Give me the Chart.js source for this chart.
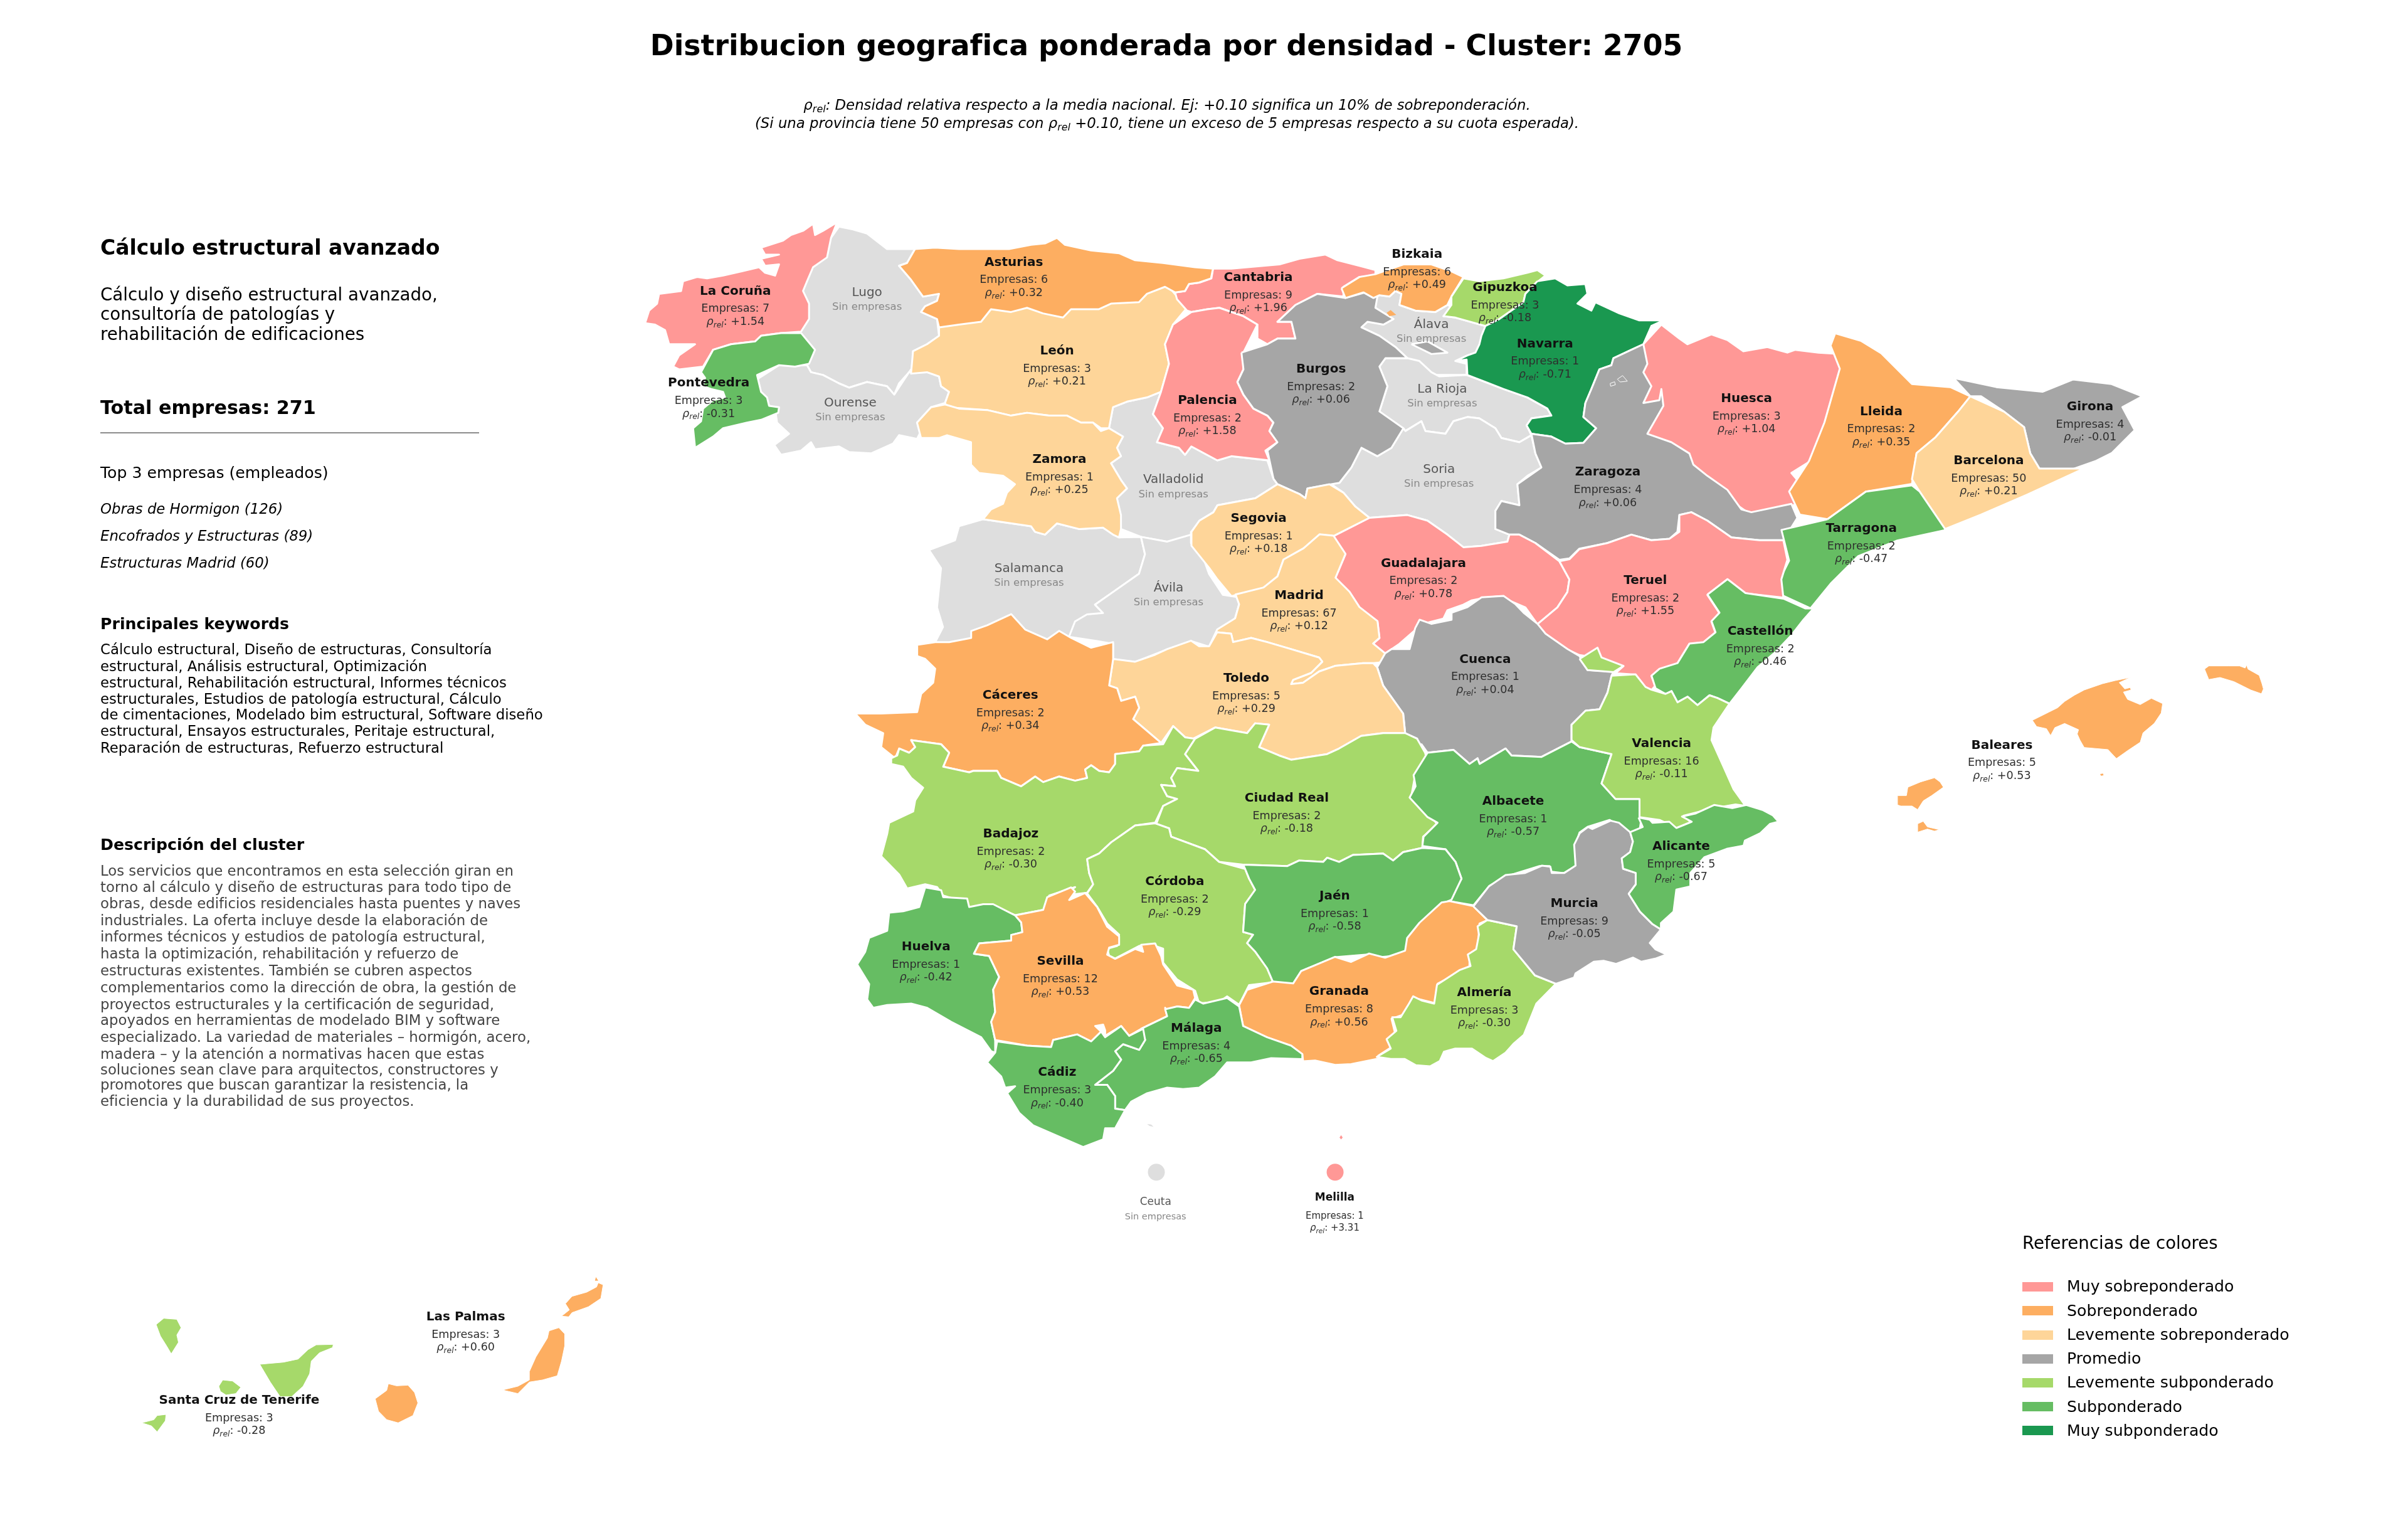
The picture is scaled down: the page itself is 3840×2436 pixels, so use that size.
<!DOCTYPE html>
<html lang="es"><head><meta charset="utf-8">
<title>Distribucion geografica ponderada por densidad - Cluster: 2705</title>
<script src="https://cdn.jsdelivr.net/npm/chart.js@4/dist/chart.umd.js"></script>
<style>
html,body{margin:0;padding:0;background:#fff}
#stage{position:relative;width:3840px;height:2436px;overflow:hidden;font-family:"DejaVu Sans",sans-serif;color:#000}
canvas{position:absolute;left:0;top:0}
.t{position:absolute;white-space:nowrap;line-height:1.2;transform:translateY(-50%)}
.c{transform:translate(-50%,-50%)}
sub{font-size:.7em;vertical-align:-.25em;line-height:0}
</style></head><body><div id="stage"><canvas id="map" width="3840" height="2436"></canvas></div>
<script>
// ---------- chart content ----------
const chartTitle = "Distribucion geografica ponderada por densidad - Cluster: 2705";
const noteLines = ["<i>ρ<sub>rel</sub>: Densidad relativa respecto a la media nacional. Ej: +0.10 significa un 10% de sobreponderación.</i>",
 "<i>(Si una provincia tiene 50 empresas con ρ<sub>rel</sub> +0.10, tiene un exceso de 5 empresas respecto a su cuota esperada).</i>"];
const clusterName = "Cálculo estructural avanzado";
const clusterSummary = ["Cálculo y diseño estructural avanzado,","consultoría de patologías y","rehabilitación de edificaciones"];
const totalLine = "Total empresas: 271";
const topHeading = "Top 3 empresas (empleados)";
const topCompanies = ["Obras de Hormigon (126)","Encofrados y Estructuras (89)","Estructuras Madrid (60)"];
const keywordsHeading = "Principales keywords";
const keywordLines = ["Cálculo estructural, Diseño de estructuras, Consultoría","estructural, Análisis estructural, Optimización","estructural, Rehabilitación estructural, Informes técnicos","estructurales, Estudios de patología estructural, Cálculo","de cimentaciones, Modelado bim estructural, Software diseño","estructural, Ensayos estructurales, Peritaje estructural,","Reparación de estructuras, Refuerzo estructural"];
const descHeading = "Descripción del cluster";
const descLines = ["Los servicios que encontramos en esta selección giran en","torno al cálculo y diseño de estructuras para todo tipo de","obras, desde edificios residenciales hasta puentes y naves","industriales. La oferta incluye desde la elaboración de","informes técnicos y estudios de patología estructural,","hasta la optimización, rehabilitación y refuerzo de","estructuras existentes. También se cubren aspectos","complementarios como la dirección de obra, la gestión de","proyectos estructurales y la certificación de seguridad,","apoyados en herramientas de modelado BIM y software","especializado. La variedad de materiales – hormigón, acero,","madera – y la atención a normativas hacen que estas","soluciones sean clave para arquitectos, constructores y","promotores que buscan garantizar la resistencia, la","eficiencia y la durabilidad de sus proyectos."];
const legendTitle = "Referencias de colores";
const legendLabels = ["Muy sobreponderado","Sobreponderado","Levemente sobreponderado","Promedio","Levemente subponderado","Subponderado","Muy subponderado"];
const legendColors = ["#FF9896","#FDAE61","#FED599","#A6A6A6","#A6D96A","#66BD63","#1A9850"];
const noCompanyColor = "#DEDEDE";

const provinceNames = ["La Coruña","Lugo","Pontevedra","Ourense","Asturias","León","Zamora","Valladolid","Salamanca","Ávila","Palencia","Cantabria","Bizkaia","Gipuzkoa","Álava","Navarra","Burgos","La Rioja","Soria","Huesca","Zaragoza","Lleida","Girona","Barcelona","Tarragona","Segovia","Guadalajara","Madrid","Teruel","Castellón","Cuenca","Valencia","Albacete","Alicante","Murcia","Almería","Cáceres","Toledo","Badajoz","Ciudad Real","Córdoba","Jaén","Huelva","Sevilla","Granada","Málaga","Cádiz","Baleares","Las Palmas","Santa Cruz de Tenerife","Ceuta","Melilla"];
const empresasValues = [7,null,3,null,6,3,1,null,null,null,2,9,6,3,null,1,2,null,null,3,4,2,4,50,2,1,2,67,2,2,1,16,1,5,9,3,2,5,2,2,2,1,1,12,8,4,3,5,3,3,null,1];
const rhoValues = [1.54,null,-0.31,null,0.32,0.21,0.25,null,null,null,1.58,1.96,0.49,-0.18,null,-0.71,0.06,null,null,1.04,0.06,0.35,-0.01,0.21,-0.47,0.18,0.78,0.12,1.55,-0.46,0.04,-0.11,-0.57,-0.67,-0.05,-0.30,0.34,0.29,-0.30,-0.18,-0.29,-0.58,-0.42,0.53,0.56,-0.65,-0.40,0.53,0.60,-0.28,null,3.31];
// map survey sheets: [origin x, origin y, x unit, y unit]
const sheets = {a:[1000,330,1000/1568,700/1568],b:[1900,330,1000/1568,700/1568],c:[1300,950,1000/1568,700/1568],d:[2200,950,1000/1568,700/1568],e:[1300,1350,1000/1568,700/1568],g:[2200,1250,700/1568,1/3],h:[180,2000,820/1568,1/3],i:[3000,1020,700/1568,1/3],f:[0,0,3840/1568,3840/1568]};
const labelAnchors = [["a",271,301],["a",600,307],["a",204,630],["a",558,701],["a",967,198],["a",1075,515],["a",1081,902],["a",1366,975],["a",1005,1292],["a",1354,1361],["a",1451,691],["b",167,252],["b",564,170],["b",784,289],["b",600,420],["b",884,489],["b",324,580],["b",627,652],["b",619,938],["b",1388,685],["b",1041,948],["f",1225,268],["f",1361,265],["f",1295,300],["f",1212,344],["b",168,1113],["b",580,1273],["b",269,1388],["b",1135,1334],["d",952,127],["d",264,227],["d",705,529],["d",334,734],["d",754,895],["d",487,1099],["d",262,1417],["c",488,356],["c",1078,296],["c",489,850],["c",1179,723],["c",899,1021],["c",1299,1072],["c",277,1254],["c",613,1305],["c",1310,1414],["e",953,649],["e",605,807],["i",431,505],["h",1076,300],["h",385,698],["e",851,1270],["e",1299,1254]];
const enclaveMarkers = [["Ceuta","e",853,1162],["Melilla","e",1300,1162]];

// ---------- outlines, bottom of the stack first ----------
const outLugo=[530,70,565,80,600,95,650,150,720,150,700,200,680,210,710,260,740,320,780,310,775,335,745,355,735,375,775,400,780,460,750,490,715,515,715,570,705,590,680,630,668,670,650,640,600,625,555,645,530,630,490,600,460,590,450,565,430,500,420,400,430,300,470,200,510,110];
const outOurense=[380,565,450,565,460,590,490,600,530,630,555,645,600,625,650,640,668,670,705,590,750,590,780,605,785,640,805,660,795,700,760,715,725,770,735,800,725,828,680,815,665,845,610,880,555,875,530,855,470,865,460,840,435,870,385,885,368,850,405,810,375,770,370,720,330,690,320,620];
const outValladolid=[1205,790,1215,715,1250,695,1300,680,1335,660,1315,740,1340,790,1325,840,1380,860,1395,885,1411,855,1476,905,1511,890,1601,905,1616,970,1626,990,1571,1040,1476,1065,1466,1090,1431,1120,1411,1160,1410,1190,1350,1195,1285,1178,1235,1150,1225,1040,1250,1005,1235,975,1210,915,1235,890,1225,860,1240,820];
const outSalamanca=[890,1115,1010,1140,1020,1160,1045,1170,1075,1130,1130,1150,1190,1145,1230,1180,1285,1178,1295,1240,1280,1310,1220,1370,1170,1420,1190,1450,1190,1475,1130,1510,1115,1580,1000,1600,800,1600,770,1555,790,1500,775,1430,780,1360,785,1290,755,1225,820,1190,830,1140];
const outAvila=[1285,1178,1350,1195,1410,1170,1410,1200,1440,1250,1455,1310,1490,1385,1535,1395,1530,1420,1520,1470,1475,1520,1455,1570,1410,1550,1350,1580,1270,1625,1215,1615,1215,1560,1175,1550,1105,1535,1120,1480,1150,1455,1190,1450,1170,1420,1220,1370,1280,1310,1295,1240];
const outLeon=[780,400,1000,340,1345,270,1400,360,1365,420,1345,490,1355,560,1335,660,1300,680,1250,695,1215,715,1205,790,1185,790,1165,770,1135,770,1100,745,1055,745,1000,735,960,745,900,725,800,715,795,700,805,660,785,640,780,605,750,590,710,595,715,515,750,490,780,460];
const outZamora=[795,705,830,720,900,725,960,745,1000,735,1055,745,1100,745,1135,770,1165,770,1185,800,1205,790,1240,820,1225,860,1235,890,1210,915,1235,975,1250,1005,1225,1040,1235,1100,1235,1150,1230,1180,1215,1170,1190,1145,1130,1150,1075,1130,1045,1170,1020,1160,1010,1140,890,1115,910,1080,940,1060,950,1020,970,990,940,960,880,950,860,920,860,840,800,815,780,825,735,825,725,770,760,715];
const outCantabria=[54,220,100,220,180,210,220,205,270,185,335,170,365,190,420,210,460,225,460,245,420,250,380,285,380,320,315,310,260,350,215,410,250,410,260,470,215,470,190,490,165,470,165,420,130,390,70,360,40,365,0,375,-11,370,-36,330,-41,305,-16,300,-6,275,20,270,50,255];
const outAsturias=[720,150,770,145,830,150,890,150,955,150,1010,135,1045,130,1075,110,1095,135,1160,155,1230,165,1270,190,1340,200,1420,215,1465,220,1460,255,1430,270,1405,275,1395,300,1370,305,1345,285,1300,310,1280,340,1210,345,1180,365,1110,365,1090,395,1040,380,1000,360,960,375,910,365,885,410,830,420,780,430,775,400,735,375,745,355,775,335,780,310,740,320,710,260,680,210,700,200];
const outCoruna=[525,55,510,110,500,180,465,215,450,265,440,300,455,345,455,400,435,445,385,450,335,460,320,480,260,490,215,510,190,570,130,580,115,570,130,530,170,490,105,490,95,440,70,420,45,415,55,370,75,345,80,310,135,300,140,265,175,250,200,255,240,245,285,230,330,215,345,235,370,245,380,205,345,210,335,185,380,170,345,170,335,145,390,120,410,100,440,85,465,60,470,100,490,85];
const outPontevedra=[435,450,470,510,455,560,420,570,380,565,325,600,335,660,350,680,355,710,380,715,378,735,335,760,300,770,240,790,215,820,170,860,165,790,185,765,190,720,215,690,245,680,240,660,210,650,190,640,195,610,185,590,215,510,260,490,320,480,335,460,385,450];
const outPalencia=[1411,375,1451,365,1481,360,1541,390,1576,420,1541,520,1541,580,1526,625,1541,670,1566,720,1601,745,1616,770,1606,800,1626,840,1596,870,1606,905,1511,890,1476,905,1411,855,1395,885,1380,860,1325,840,1340,790,1315,740,1335,660,1355,560,1345,490,1365,420];
const outAlava=[455,325,470,315,495,320,510,300,525,310,520,350,560,370,610,375,640,350,650,355,630,390,660,395,735,425,725,490,710,520,690,530,660,550,688,560,688,600,600,600,540,540,510,500,470,460,425,430,440,405,480,420,505,400,460,360];
const outRioja=[485,540,540,540,570,550,600,590,620,605,688,600,735,625,780,650,840,680,890,720,900,745,850,755,838,780,850,815,820,840,775,825,760,790,720,755,690,750,655,765,635,810,585,800,575,765,535,800,470,730,490,640,470,570];
const outHuesca=[1175,420,1220,470,1240,490,1300,455,1340,475,1380,515,1440,500,1490,520,1510,510,1568,520,1620,525,1630,600,1628,700,1620,810,1590,870,1500,950,1530,1000,1520,1060,1400,1100,1300,1000,1140,820,1120,640,1130,490];
const outSoria=[530,790,535,800,575,765,585,800,635,810,655,765,690,750,720,755,760,790,775,825,820,840,850,815,860,880,875,930,840,960,815,990,820,1065,775,1050,760,1085,760,1150,795,1170,790,1195,725,1210,680,1215,640,1170,590,1120,540,1100,445,1110,410,1070,380,1020,345,985,370,985,400,930,425,860,465,890,500,860];
const outBurgos=[125,520,190,490,215,470,260,470,250,410,215,410,260,350,315,310,385,325,435,305,465,320,460,360,505,400,480,420,440,410,425,430,470,460,510,500,540,540,485,540,470,570,490,640,470,730,530,790,500,860,465,890,425,860,400,930,370,985,290,1005,285,1040,270,1025,215,990,205,970,190,870,215,840,195,800,205,770,190,745,155,720,130,670,115,625,130,580];
const outTrevino=[550,490,590,480,640,520,600,525];
const outBizkaia=[375,290,420,250,460,240,470,235,530,205,600,205,650,230,680,250,650,320,640,350,610,375,560,370,520,350,525,310,510,300,495,320,470,315,455,325,430,305,385,325];
const outOrduna=[488,378,498,368,512,385,495,390];
const outGipuzkoa=[680,255,720,265,780,255,840,235,865,225,885,245,870,262,835,310,830,340,770,400,735,425,660,395,630,390,650,350,650,320];
const outNavarra=[865,265,910,255,940,280,985,275,990,310,965,345,1000,370,1010,340,1070,380,1120,405,1180,405,1150,425,1130,490,1100,510,1055,540,1050,565,1020,580,1000,650,985,700,980,750,1012,790,980,842,935,845,900,820,850,810,838,780,850,755,900,745,890,720,840,680,780,650,735,625,690,600,688,545,660,550,690,530,710,520,720,490,725,460,735,425,770,400,830,340,835,310];
const outZaragoza=[850,810,900,820,935,845,980,842,1012,790,980,750,985,700,1000,650,1020,580,1050,565,1055,540,1100,510,1130,490,1140,560,1130,590,1150,640,1130,700,1170,690,1175,650,1180,710,1140,810,1200,840,1245,880,1255,920,1290,960,1340,1010,1375,1080,1400,1090,1500,1060,1515,1110,1480,1190,1420,1190,1350,1180,1290,1120,1250,1090,1220,1100,1215,1160,1195,1185,1150,1190,1100,1170,1040,1200,970,1220,945,1255,920,1260,860,1200,820,1170,795,1170,760,1150,760,1085,775,1050,820,1065,815,990,875,930,860,880];
const outZaragozaIsleA=[1065,615,1078,602,1090,622,1072,625];
const outZaragozaIsleB=[1047,630,1058,624,1060,635,1048,640];
const outLleida=[1192,225,1195,217,1212,222,1225,230,1235,240,1245,250,1270,252,1283,258,1275,268,1260,285,1248,295,1245,315,1215,320,1190,338,1172,335,1165,320,1178,300,1188,275,1198,240];
const outGirona=[1272,246,1300,252,1330,255,1350,247,1375,250,1395,258,1382,265,1390,280,1375,295,1365,300,1345,307,1328,305,1322,295,1318,278,1305,268,1290,258,1283,258];
const outBarcelona=[1283,258,1305,268,1318,278,1322,295,1328,305,1357,305,1320,322,1290,335,1265,345,1250,320,1245,312,1248,295,1260,285,1275,268];
const outTarragona=[1190,338,1215,320,1245,316,1250,320,1267,345,1235,352,1210,362,1192,380,1179,396,1155,385,1165,365,1160,345];
const outGuadalajara=[445,1110,540,1100,590,1120,640,1170,680,1215,725,1210,790,1195,795,1170,820,1170,860,1200,920,1265,945,1330,940,1375,915,1430,865,1490,835,1430,770,1390,735,1395,700,1405,680,1420,640,1440,630,1470,575,1490,560,1510,520,1560,484,1595,454,1560,470,1540,465,1480,420,1430,395,1375,360,1325,385,1240,355,1175];
const outSegovia=[215,990,270,1025,285,1040,290,1005,345,990,380,1020,410,1070,445,1110,355,1175,320,1170,280,1220,230,1260,215,1320,180,1360,100,1390,65,1330,45,1290,0,1210,0,1160,20,1120,55,1090,65,1065,160,1040];
const outTeruel=[920,1265,945,1258,970,1222,1040,1200,1100,1170,1150,1190,1195,1185,1220,1160,1220,1100,1250,1090,1290,1120,1350,1180,1420,1190,1480,1190,1490,1260,1475,1330,1480,1395,1385,1380,1340,1330,1290,1385,1320,1450,1300,1480,1310,1520,1280,1555,1245,1560,1215,1630,1170,1650,1150,1675,1160,1710,1150,1725,1135,1715,1110,1670,1060,1665,1080,1640,1015,1610,970,1600,940,1580,885,1525,865,1490,915,1430,940,1375,945,1330];
const outCastellon=[820,-5,870,-60,915,-10,1010,10,1065,45,1085,45,1060,85,1030,140,990,200,945,255,905,330,875,385,845,365,825,355,795,390,770,360,745,380,730,340,715,350,690,330,680,285,700,260,745,240,775,170,810,165,840,130,830,90,850,60];
const outMadrid=[1296,-215,1326,-150,1301,-65,1336,-15,1361,40,1406,90,1411,150,1395,170,1425,205,1430,235,1395,240,1370,240,1300,250,1260,270,1220,310,1190,315,1195,300,1240,275,1268,235,1260,220,1190,190,1130,165,1090,150,1045,165,1040,135,1005,130,985,180,1005,120,1050,80,1060,30,1051,-5,1121,-30,1156,-70,1171,-130,1221,-170,1261,-220];
const outCuenca=[-6,255,9,320,59,420,64,490,94,510,75,545,105,530,120,560,185,550,225,600,245,580,250,600,315,545,330,570,405,575,480,520,480,460,515,410,550,405,570,345,580,285,585,270,520,265,500,215,470,190,415,135,395,100,360,60,340,30,310,0,255,5,220,40,180,60,180,85,130,100,100,85,89,115,75,190,30,190,14,205];
const outToledo=[745,225,800,235,850,210,880,190,940,160,960,180,985,180,1005,130,1040,135,1045,165,1090,150,1130,165,1190,190,1260,220,1268,235,1240,275,1195,300,1190,315,1220,310,1260,270,1300,250,1370,240,1395,240,1405,255,1420,320,1470,420,1475,490,1420,490,1365,500,1310,545,1280,565,1190,585,1160,570,1110,540,1135,460,1100,455,1080,490,1000,470,945,510,925,505,895,465,865,525,795,440,810,400,800,360,765,375,755,330,735,320];
const outCaceres=[300,165,335,165,390,150,390,125,430,105,490,65,525,120,580,155,610,125,640,150,690,185,745,165,745,225,735,320,755,330,765,375,800,360,810,400,795,440,865,525,820,535,810,555,750,565,750,600,735,630,710,625,690,605,675,620,680,650,650,660,610,645,570,665,550,645,515,680,465,650,455,625,395,625,385,630,320,610,335,560,315,530,240,515,250,540,235,560,210,545,200,580,165,540,170,490,125,460,100,420,165,420,255,415,265,350,295,310,300,260,275,225,255,215,255,175];
const outBadajoz=[190,580,205,570,210,545,235,560,250,540,240,515,315,530,335,560,320,610,385,630,395,625,455,625,465,650,515,680,550,645,570,665,610,645,650,660,680,650,675,620,690,605,710,625,735,630,750,600,750,565,810,555,820,535,870,530,895,465,925,505,950,510,925,565,958,625,905,615,890,650,900,680,865,675,880,715,905,725,870,750,850,810,800,820,770,850,740,880,710,920,680,940,685,990,695,1030,680,1060,650,1065,640,1085,630,1060,650,1040,585,1070,575,1120,500,1140,445,1110,385,1110,355,1085,320,1070,305,1040,275,1030,230,1045,210,995,165,930,180,850,185,810,245,770,250,730,270,685,240,650,220,610,190,600];
const outCiudadReal=[950,510,1000,470,1080,490,1100,455,1135,460,1110,540,1160,570,1190,585,1280,565,1310,545,1365,500,1420,490,1475,490,1505,510,1525,560,1530,590,1500,640,1490,720,1525,760,1555,815,1520,860,1518,900,1470,915,1445,945,1420,920,1345,925,1310,950,1280,935,1270,950,1210,945,1180,965,1070,960,1010,950,975,905,890,860,885,830,850,825,870,750,905,725,880,715,865,675,900,680,890,650,905,615,958,625,925,565];
const outCordoba=[850,812,885,830,890,860,975,905,1010,950,1075,975,1085,1010,1100,1050,1075,1100,1070,1200,1095,1210,1080,1240,1100,1270,1130,1330,1145,1380,1085,1390,1060,1460,1030,1430,1010,1450,960,1455,950,1410,905,1370,870,1310,870,1260,840,1245,810,1250,750,1295,735,1285,730,1260,755,1250,760,1210,730,1170,705,1110,680,1062,695,1030,685,990,680,940,710,920,740,880,770,850,800,820];
const outAlbacete=[120,560,185,550,225,600,245,580,250,600,315,545,330,570,405,575,480,520,500,540,580,565,555,670,590,725,650,725,655,790,650,840,625,845,575,800,520,825,500,845,490,890,490,965,460,990,430,985,425,965,400,965,320,1000,275,1035,235,1105,175,1090,205,1010,190,950,165,905,107,893,110,860,145,810,120,790,75,720,90,680,85,640];
const outValencia=[580,285,640,280,665,325,680,335,715,350,730,340,745,380,770,360,795,390,825,355,845,365,875,385,835,470,830,515,860,610,885,690,915,750,890,745,830,760,760,785,780,810,745,830,700,800,650,790,650,725,590,725,555,670,580,565,500,540,480,515,480,460,515,410,550,405,570,345];
const outAdemuz=[500,225,545,185,555,220,610,250,585,272,520,265];
const outJaen=[1070,960,1180,965,1210,945,1270,950,1280,935,1310,950,1345,925,1420,920,1445,945,1470,915,1518,900,1576,905,1601,950,1616,1010,1591,1085,1566,1100,1511,1170,1481,1225,1486,1260,1451,1285,1411,1290,1385,1280,1300,1290,1215,1340,1195,1385,1145,1380,1130,1330,1100,1270,1080,1240,1095,1210,1070,1200,1075,1100,1100,1050,1085,1010,1075,975];
const outGranada=[1060,1462,1080,1407,1145,1377,1195,1384,1215,1340,1300,1289,1340,1307,1385,1277,1425,1292,1475,1267,1480,1222,1511,1167,1566,1095,1586,1090,1646,1108,1681,1158,1661,1170,1656,1280,1636,1290,1636,1325,1556,1385,1551,1455,1496,1435,1481,1490,1441,1510,1450,1562,1430,1587,1440,1612,1408,1642,1410,1652,1340,1672,1300,1675,1250,1659,1220,1662,1218,1637,1190,1607,1130,1577,1070,1537];
const outAlmeria=[385,650,420,660,490,680,478,790,555,915,630,955,560,1050,515,1200,480,1240,450,1285,405,1325,380,1310,330,1265,270,1265,230,1280,215,1325,180,1350,130,1345,90,1315,40,1315,-10,1305,40,1265,25,1220,60,1180,45,1115,75,1115,105,1050,120,1015,150,1035,195,1050,205,960,285,890,325,870,315,815,345,790,355,720,350,680];
const outMurcia=[335,585,390,490,450,435,520,425,580,390,610,395,615,425,660,425,700,390,695,290,715,235,745,205,760,215,825,175,855,185,895,230,905,275,895,325,865,355,870,405,915,425,915,480,890,525,930,610,975,670,1005,695,965,760,985,790,1025,815,985,835,935,850,905,830,845,860,800,845,765,850,700,905,695,925,630,955,555,915,478,790,490,680,420,660,385,650];
const outAlicante=[925,160,965,170,975,185,1035,180,1060,210,1115,180,1080,155,1130,140,1195,100,1260,115,1310,100,1370,125,1405,150,1425,180,1395,190,1360,235,1305,270,1300,295,1240,310,1160,350,1110,425,1110,490,1060,505,1050,610,1005,665,1005,695,975,670,930,610,890,525,915,480,915,425,870,405,865,355,895,325,905,275,895,230,940,205];
const outHuelva=[275,145,315,155,320,180,380,185,385,215,420,205,445,205,500,245,515,270,518,305,490,315,490,335,410,345,397,382,435,390,460,465,445,510,450,590,440,625,450,690,450,735,440,730,415,680,340,625,280,575,240,560,180,565,145,575,130,545,135,490,105,420,125,375,135,325,180,300,185,235,220,230,260,215];
const outSevilla=[500,245,570,225,580,180,640,145,650,160,635,190,675,165,705,215,730,285,760,320,760,350,735,360,730,385,750,400,800,365,820,375,815,350,850,345,865,390,870,420,905,495,945,510,950,540,935,575,905,570,885,590,875,575,880,605,815,650,785,675,765,640,725,675,725,655,720,635,700,640,715,660,690,695,655,670,595,690,590,715,530,710,450,690,440,625,450,590,445,510,460,465,435,390,397,382,410,345,490,335,490,315,518,305,515,270];
const outMalaga=[815,650,880,605,875,580,905,570,935,575,950,545,970,560,1030,540,1060,570,1070,640,1130,680,1190,710,1218,740,1218,758,1140,755,1090,770,1030,770,1000,820,960,860,920,865,880,860,830,880,790,910,775,940,750,935,750,890,730,850,700,850,745,800,765,760,750,730,770,705,810,725,825,690];
const outCadiz=[455,695,530,710,590,715,595,690,655,670,690,695,715,660,725,680,765,640,785,675,820,650,825,690,810,725,770,705,750,730,765,760,745,800,700,850,730,850,750,890,750,935,775,940,750,1005,725,1005,720,1045,670,1072,610,1035,545,995,510,950,480,880,500,855,475,860,465,820,430,770,450,735];
const outMallorca=[540,385,600,345,630,325,655,295,690,265,725,240,790,210,835,195,890,180,850,205,870,235,890,228,892,240,865,250,880,285,925,310,965,280,1005,305,1000,350,975,400,935,445,925,490,880,530,840,568,810,525,725,515,710,480,700,450,705,430,655,400,620,420,605,458,590,425,555,415];
const outMenorca=[1155,140,1170,125,1240,125,1280,125,1300,135,1305,120,1310,140,1350,170,1360,210,1365,235,1358,258,1320,240,1260,200,1210,180,1170,190];
const outIbiza=[58,745,90,745,95,705,140,680,190,660,210,680,222,705,180,745,150,770,130,812,110,795,70,795,58,790];
const outFormentera=[130,880,150,868,165,895,208,908,190,915,165,905,130,920];
const outCabrera=[782,642,792,640,794,648,785,650];
const outLaPalma=[132,335,155,305,195,310,208,350,195,385,200,420,178,475,165,440,145,390];
const outTenerife=[448,525,520,515,565,500,595,455,620,432,672,430,670,445,630,470,605,510,600,570,580,630,545,680,510,680,480,610];
const outGomera=[323,630,335,600,365,605,390,635,375,665,345,672,328,655];
const outHierro=[88,805,125,790,135,770,162,765,160,795,135,848,118,820];
const outGranCanaria=[800,690,835,650,840,618,865,628,900,625,920,660,930,710,915,770,870,805,835,790,810,750];
const outFuerteventura=[1188,648,1235,630,1270,600,1270,560,1290,490,1325,400,1330,365,1360,350,1378,380,1378,435,1368,510,1355,580,1310,600,1270,610,1235,665];
const outLanzarote=[1368,295,1392,265,1380,235,1400,200,1445,180,1475,155,1480,135,1495,145,1488,210,1450,250,1400,278,1390,298];
const outGraciosa=[1470,125,1473,108,1480,125];
const outCeuta=[830,990,840,992,846,1000,836,997];
const outMelilla=[1315,1030,1319,1038,1315,1045,1311,1038];

const drawStack=[["Lugo","a",outLugo],["Ourense","a",outOurense],["Valladolid","a",outValladolid],["Salamanca","a",outSalamanca],["Ávila","a",outAvila],["León","a",outLeon],["Zamora","a",outZamora],["Cantabria","b",outCantabria],["Asturias","a",outAsturias],["La Coruña","a",outCoruna],["Pontevedra","a",outPontevedra],["Palencia","a",outPalencia],["Álava","b",outAlava],["La Rioja","b",outRioja],["Huesca","b",outHuesca],["Soria","b",outSoria],["Burgos","b",outBurgos],["Burgos","b",outTrevino],["Bizkaia","b",outBizkaia],["Bizkaia","b",outOrduna],["Gipuzkoa","b",outGipuzkoa],["Navarra","b",outNavarra],["Zaragoza","b",outZaragoza],["Zaragoza","b",outZaragozaIsleA],["Zaragoza","b",outZaragozaIsleB],["Lleida","f",outLleida],["Girona","f",outGirona],["Barcelona","f",outBarcelona],["Tarragona","f",outTarragona],["Guadalajara","b",outGuadalajara],["Segovia","b",outSegovia],["Teruel","b",outTeruel],["Castellón","d",outCastellon],["Madrid","c",outMadrid],["Cuenca","d",outCuenca],["Toledo","c",outToledo],["Cáceres","c",outCaceres],["Badajoz","c",outBadajoz],["Ciudad Real","c",outCiudadReal],["Córdoba","c",outCordoba],["Albacete","d",outAlbacete],["Valencia","d",outValencia],["Valencia","d",outAdemuz],["Jaén","c",outJaen],["Granada","c",outGranada],["Almería","g",outAlmeria],["Murcia","g",outMurcia],["Alicante","g",outAlicante],["Huelva","e",outHuelva],["Sevilla","e",outSevilla],["Málaga","e",outMalaga],["Cádiz","e",outCadiz],["Baleares","i",outMallorca],["Baleares","i",outMenorca],["Baleares","i",outIbiza],["Baleares","i",outFormentera],["Baleares","i",outCabrera],["Santa Cruz de Tenerife","h",outLaPalma],["Santa Cruz de Tenerife","h",outTenerife],["Santa Cruz de Tenerife","h",outGomera],["Santa Cruz de Tenerife","h",outHierro],["Las Palmas","h",outGranCanaria],["Las Palmas","h",outFuerteventura],["Las Palmas","h",outLanzarote],["Las Palmas","h",outGraciosa],["Ceuta","e",outCeuta],["Melilla","e",outMelilla]];

// ---------- helpers ----------
function toMap(sheet,zx,zy){const s=sheets[sheet];return {x:s[0]+zx*s[2],y:s[1]+zy*s[3]};}
function bandColor(r){
  if(r===null) return noCompanyColor;
  if(r>0.75) return legendColors[0];
  if(r>0.30) return legendColors[1];
  if(r>0.10) return legendColors[2];
  if(r>=-0.10) return legendColors[3];
  if(r>=-0.30) return legendColors[4];
  if(r>=-0.70) return legendColors[5];
  return legendColors[6];
}
function colorOf(name){return bandColor(rhoValues[provinceNames.indexOf(name)]);}
const tinyParts=[outCabrera,outGraciosa,outCeuta,outMelilla,outOrduna];
const islandParts=[outMallorca,outMenorca,outIbiza,outFormentera,outLaPalma,outTenerife,outGomera,outHierro,outGranCanaria,outFuerteventura,outLanzarote,outZaragozaIsleA,outZaragozaIsleB];

const polygonSets=drawStack.map(([name,sheet,flat])=>{
  const pts=[];for(let i=0;i<flat.length;i+=2)pts.push(toMap(sheet,flat[i],flat[i+1]));
  pts.push(pts[0]);
  const c=colorOf(name);
  return {label:name,data:pts,showLine:true,fill:'shape',backgroundColor:c,borderColor:'#ffffff',
    borderWidth:tinyParts.includes(flat)?0:(islandParts.includes(flat)?1:3),borderJoinStyle:'round',pointRadius:0,pointHoverRadius:0,tension:0,clip:false};
}).reverse(); // Chart.js paints the first dataset last
const markerSet={label:"Ceuta y Melilla",data:enclaveMarkers.map(m=>toMap(m[1],m[2],m[3])),showLine:false,
  pointRadius:13.5,pointHoverRadius:13.5,pointBorderWidth:0,
  pointBackgroundColor:enclaveMarkers.map(m=>colorOf(m[0]))};

const fmtRho=r=>(r>=0?"+":"-")+Math.abs(r).toFixed(2);
const FONT='"DejaVu Sans"';
function drawRho(ctx,cx,y,r,size,color){
  const tail=": "+fmtRho(r);
  ctx.fillStyle=color;ctx.textBaseline='alphabetic';ctx.textAlign='left';
  const main=`italic ${size}px ${FONT}`,sub=`italic ${size*.7}px ${FONT}`,reg=`${size}px ${FONT}`;
  ctx.font=main;const w1=ctx.measureText("ρ").width;
  ctx.font=sub;const w2=ctx.measureText("rel").width;
  ctx.font=reg;const w3=ctx.measureText(tail).width;
  let x=cx-(w1+w2+w3)/2;const base=y+size*.36;
  ctx.font=main;ctx.fillText("ρ",x,base);x+=w1;
  ctx.font=sub;ctx.fillText("rel",x,base+size*.22);x+=w2;
  ctx.font=reg;ctx.fillText(tail,x,base);
}
const provinceLabels={id:'provinceLabels',afterDatasetsDraw(chart){
  const ctx=chart.ctx,xs=chart.scales.x,ys=chart.scales.y;
  ctx.save();
  provinceNames.forEach((name,i)=>{
    const p=toMap(...labelAnchors[i]);
    const px=xs.getPixelForValue(p.x),py=ys.getPixelForValue(p.y);
    const small=(name==="Ceuta"||name==="Melilla");
    ctx.textAlign='center';ctx.textBaseline='middle';
    if(empresasValues[i]===null){
      ctx.fillStyle='#555';ctx.font=`${small?17:20}px ${FONT}`;ctx.fillText(name,px,py);
      ctx.fillStyle='#888';ctx.font=`${small?14.5:16.5}px ${FONT}`;ctx.fillText("Sin empresas",px,py+23);
    }else{
      const sz=small?15:17.6;
      ctx.fillStyle='#111';ctx.font=`bold ${small?17:20}px ${FONT}`;ctx.fillText(name,px,py);
      ctx.fillStyle='#2e2e2e';ctx.font=`${sz}px ${FONT}`;ctx.fillText("Empresas: "+empresasValues[i],px,py+(small?29.5:28.5));
      drawRho(ctx,px,py+47,rhoValues[i],sz,'#2e2e2e');
    }
  });
  ctx.restore();
}};

new Chart(document.getElementById('map'),{
  type:'scatter',
  data:{datasets:[markerSet,...polygonSets]},
  options:{responsive:false,animation:false,devicePixelRatio:1,layout:{padding:0,autoPadding:false},
    events:[],
    plugins:{legend:{display:false},tooltip:{enabled:false},title:{display:false}},
    scales:{x:{type:'linear',min:0,max:3840,display:false},y:{type:'linear',min:0,max:2436,reverse:true,display:false}}},
  plugins:[provinceLabels]
});

// ---------- surrounding text ----------
const stage=document.getElementById('stage');
function put(x,y,html,css,center){const d=document.createElement('div');d.className='t'+(center?' c':'');d.style.cssText=`left:${x}px;top:${y}px;`+css;d.innerHTML=html;stage.appendChild(d);return d;}
put(1860,73,chartTitle,'font-size:45.7px;font-weight:bold',true);
[168,197].forEach((y,i)=>put(1861,y,noteLines[i],'font-size:22.8px',true));
put(160,394.5,clusterName,'font-size:33px;font-weight:bold');
[470,501,533].forEach((y,i)=>put(160,y,clusterSummary[i],'font-size:27.7px'));
put(160,650,totalLine,'font-size:30.2px;font-weight:bold');
const rule=document.createElement('div');rule.style.cssText='position:absolute;left:160px;top:689px;width:604px;height:2px;background:#8c8c8c';stage.appendChild(rule);
put(160,754,topHeading,'font-size:25.2px');
[812,855,898].forEach((y,i)=>put(160,y,topCompanies[i],'font-size:22.8px;font-style:italic'));
put(160,995,keywordsHeading,'font-size:25.2px;font-weight:bold');
[1036,1063,1088.6,1115,1140,1166,1193].forEach((y,i)=>put(160,y,keywordLines[i],'font-size:22.8px'));
put(160,1347,descHeading,'font-size:25.2px;font-weight:bold');
[1389,1415,1440.6,1467.5,1494,1521,1548,1574.6,1601.8,1627,1654,1680.7,1706,1730,1756].forEach((y,i)=>put(160,y,descLines[i],'font-size:22.8px;color:#444'));
put(3225,1982,legendTitle,'font-size:27.6px');
[2051.3,2089.7,2128,2166,2204.3,2242.7,2280.7].forEach((y,i)=>{
  const s=document.createElement('div');s.style.cssText=`position:absolute;left:3225px;top:${y-7.5}px;width:49px;height:15px;background:${legendColors[i]}`;stage.appendChild(s);
  put(3296,y,legendLabels[i],'font-size:25.2px');
});
</script></body></html>
